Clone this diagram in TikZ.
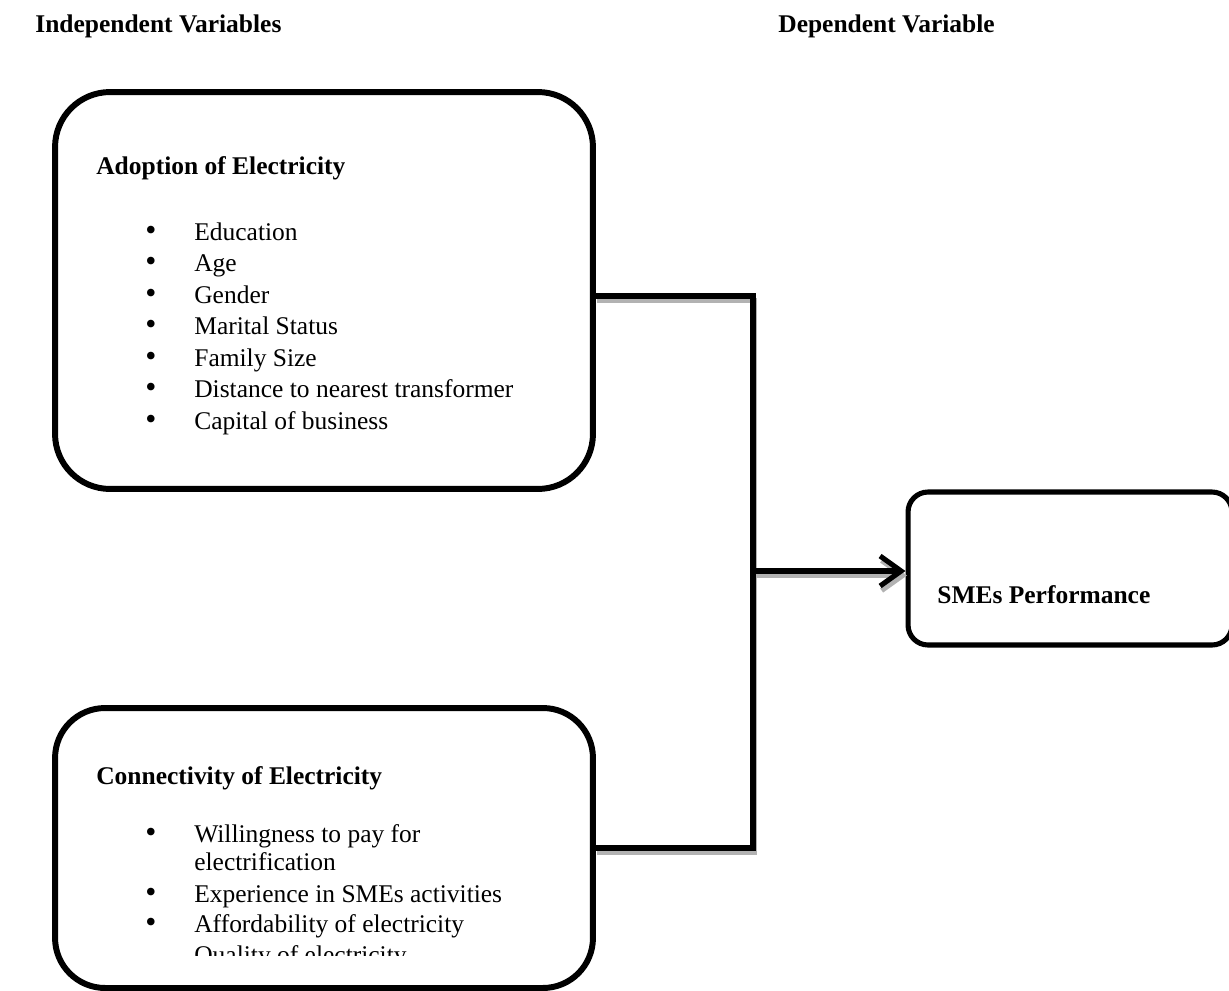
\documentclass[tikz,border=0pt]{standalone}
\usepackage{fontspec}
\setmainfont{Liberation Serif}
\usetikzlibrary{arrows.meta}
\begin{document}
\begin{tikzpicture}[
        x=0.02cm, y=-0.02cm,
        every node/.style={font=\fontsize{14.5pt}{17pt}\selectfont, inner sep=0pt},
        varbox/.style={draw, line width=3.4pt, rounded corners=1.1cm},
        head/.style={anchor=base west, font=\fontsize{14.5pt}{17pt}\selectfont\bfseries},
        item/.style={anchor=base west},
        dot/.style={anchor=base west, font=\fontsize{18pt}{18pt}\selectfont},
        link/.style={line width=2.9pt},
        shade/.style={link, black!30}
    ]
        \useasboundingbox (0,0) rectangle (1229,990);
        \clip (0,0) rectangle (1229,990);
        % column headings
        \node[head] (indep) at (35,33) {Independent Variables};
        \node[head] (dep) at (778,33) {Dependent Variable};
        % the three boxes
        \node[varbox, minimum width=10.76cm, minimum height=7.94cm] (adopt) at (324,290.5) {};
        \node[varbox, rounded corners=1cm, minimum width=10.76cm, minimum height=5.6cm] (conn) at (324,848) {};
        \node[varbox, line width=2.9pt, rounded corners=0.4cm, minimum width=6.48cm, minimum height=3.06cm] (perf) at (1070,568.5) {};
        % box texts
        \node[head] (adopttitle) at (96,174) {Adoption of Electricity};
        \foreach \txt [count=\i] in {Education, Age, Gender, Marital Status, Family Size,
            Distance to nearest transformer, Capital of business} {
            \node[dot] (adoptdot\i) at (145,208.5+31.5*\i) {\textbullet};
            \node[item] (adoptitem\i) at (194,208.5+31.5*\i) {\txt};
        }
        \node[head] (conntitle) at (96,784) {Connectivity of Electricity};
        \node[dot] (conndot1) at (145,842) {\textbullet};
        \node[item] (connitem1) at (194,842) {Willingness to pay for};
        \node[item] (connitem1b) at (194,870) {electrification};
        \node[dot] (conndot2) at (145,902) {\textbullet};
        \node[item] (connitem2) at (194,902) {Experience in SMEs activities};
        \node[dot] (conndot3) at (145,932) {\textbullet};
        \node[item] (connitem3) at (194,932) {Affordability of electricity};
        \begin{scope}
            \clip (0,0) rectangle (1229,955);
            \node[item] (connitem4) at (194,963) {Quality of electricity};
        \end{scope}
        \node[head] (perftitle) at (937,603) {SMEs Performance};
        % connectors, grey shadow first
        \coordinate (join) at (753,571);
        \begin{scope}[transform canvas={xshift=0.03cm, yshift=-0.09cm}]
            \draw[shade] ([yshift=-0.11cm]adopt.east) -| (join) |- (conn.east);
            \draw[shade, -{Straight Barb[length=0.42cm, width=0.6cm]}] (join) -- (join -| perf.west);
        \end{scope}
        \draw[link] ([yshift=-0.11cm]adopt.east) -| (join) |- (conn.east);
        \draw[link, -{Straight Barb[length=0.42cm, width=0.6cm]}] (join) -- (join -| perf.west);
    \end{tikzpicture}
\end{document}
